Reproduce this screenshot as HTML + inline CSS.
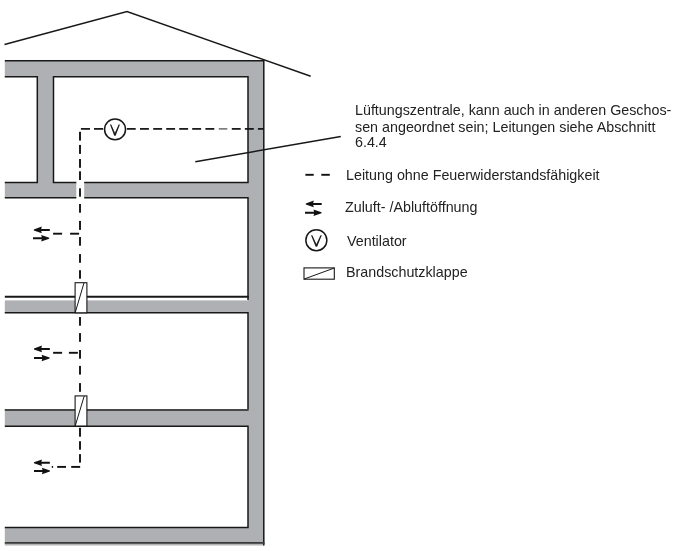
<!DOCTYPE html>
<html><head><meta charset="utf-8">
<style>
html,body{margin:0;padding:0;background:#fff;}
body{width:676px;height:551px;overflow:hidden;position:relative;font-family:"Liberation Sans",sans-serif;color:#222;}
svg{position:absolute;left:0;top:0;}
.t{position:absolute;white-space:nowrap;font-size:14.3px;line-height:16px;will-change:transform;}
.v{position:absolute;white-space:nowrap;font-size:15.3px;line-height:16px;width:20px;text-align:center;}
</style></head><body>
<svg width="676" height="551" viewBox="0 0 676 551">
<g fill="#afb0b3" stroke="none">
<rect x="4.8" y="60.8" width="259" height="16"/>
<rect x="248.0" y="60.8" width="15.8" height="482.9"/>
<rect x="37.3" y="76" width="16.2" height="107"/>
<rect x="4.8" y="182.5" width="244" height="15.3"/>
<rect x="4.8" y="300.4" width="244" height="12.4"/>
<rect x="4.8" y="409.2" width="244" height="17"/>
<rect x="4.8" y="527.5" width="259" height="16.2"/>
<rect x="4.8" y="543.7" width="259" height="1.8" fill="#b4b4b6"/>
</g>
<rect x="76.3" y="181" width="7.9" height="18" fill="#fff"/>
<g fill="none" stroke="#181818" stroke-width="1.5">
<path d="M4.8 60.8H263.8V545.6"/>
<path d="M4.8 76.8H37.3V182.5H4.8"/>
<path d="M76.3 182.5H53.5V76.8H248.0V182.5H84.2"/>
<path d="M4.8 197.8H76.3"/>
<path d="M84.2 197.8H248.0V300"/>
<path d="M4.8 312.8H248.0V409.5"/>
<path d="M4.8 426.2H248.0V527.5H4.8"/>
</g>
<path d="M4.8 296.8H248.8" stroke="#181818" stroke-width="2" fill="none"/>
<path d="M4.8 410H248.6" stroke="#484848" stroke-width="2" fill="none"/>
<path d="M4.8 542.9H264.5" stroke="#3a3a3a" stroke-width="1.7" fill="none"/>
<path d="M4.5 44.5L127 11.5L310.7 76.3" fill="none" stroke="#181818" stroke-width="1.45"/>
<path d="M195.3 161.7L340.8 136.6" fill="none" stroke="#181818" stroke-width="1.5"/>
<rect x="80.90" y="128.05" width="9.10" height="1.70" fill="#111"/>
<rect x="94.00" y="128.05" width="9.20" height="1.70" fill="#111"/>
<rect x="126.80" y="128.05" width="8.90" height="1.70" fill="#111"/>
<rect x="140.00" y="128.05" width="8.90" height="1.70" fill="#111"/>
<rect x="153.20" y="128.05" width="8.90" height="1.70" fill="#111"/>
<rect x="166.20" y="128.05" width="8.90" height="1.70" fill="#111"/>
<rect x="179.20" y="128.05" width="8.90" height="1.70" fill="#111"/>
<rect x="192.20" y="128.05" width="8.90" height="1.70" fill="#111"/>
<rect x="205.40" y="128.05" width="8.90" height="1.70" fill="#111"/>
<rect x="218.80" y="128.25" width="8.50" height="1.30" fill="#555"/>
<rect x="231.80" y="128.05" width="8.90" height="1.70" fill="#111"/>
<rect x="244.90" y="128.05" width="8.90" height="1.70" fill="#111"/>
<rect x="257.90" y="128.05" width="5.90" height="1.70" fill="#111"/>
<rect x="79.05" y="131.80" width="1.90" height="8.80" fill="#111"/>
<rect x="79.05" y="144.90" width="1.90" height="9.00" fill="#111"/>
<rect x="79.05" y="159.00" width="1.90" height="8.80" fill="#111"/>
<rect x="79.05" y="171.30" width="1.90" height="8.70" fill="#111"/>
<rect x="79.05" y="188.30" width="1.90" height="8.40" fill="#111"/>
<rect x="79.05" y="204.00" width="1.90" height="8.70" fill="#111"/>
<rect x="79.05" y="220.90" width="1.90" height="9.00" fill="#111"/>
<rect x="79.05" y="237.00" width="1.90" height="8.70" fill="#111"/>
<rect x="79.05" y="254.10" width="1.90" height="8.70" fill="#111"/>
<rect x="79.05" y="270.20" width="1.90" height="8.50" fill="#111"/>
<rect x="79.05" y="317.00" width="1.90" height="8.70" fill="#111"/>
<rect x="79.05" y="333.10" width="1.90" height="8.70" fill="#111"/>
<rect x="79.05" y="350.00" width="1.90" height="8.70" fill="#111"/>
<rect x="79.05" y="365.90" width="1.90" height="8.70" fill="#111"/>
<rect x="79.05" y="383.10" width="1.90" height="8.70" fill="#111"/>
<rect x="79.05" y="427.80" width="1.90" height="8.90" fill="#111"/>
<rect x="79.05" y="441.20" width="1.90" height="8.50" fill="#111"/>
<rect x="79.05" y="454.10" width="1.90" height="8.50" fill="#111"/>
<rect x="53.10" y="232.75" width="9.00" height="1.90" fill="#111"/>
<rect x="70.10" y="232.75" width="9.00" height="1.90" fill="#111"/>
<rect x="53.10" y="351.85" width="9.00" height="1.90" fill="#111"/>
<rect x="68.90" y="351.85" width="9.00" height="1.90" fill="#111"/>
<rect x="51.80" y="465.95" width="1.30" height="1.90" fill="#111"/>
<rect x="57.20" y="465.95" width="8.80" height="1.90" fill="#111"/>
<rect x="71.20" y="465.95" width="8.95" height="1.90" fill="#111"/>
<rect x="305.40" y="173.85" width="8.30" height="1.90" fill="#111"/>
<rect x="321.30" y="173.85" width="8.50" height="1.90" fill="#111"/>
<g fill="#fff" stroke="#181818" stroke-width="1.1">
<rect x="75.1" y="282.7" width="11.8" height="30.1"/>
<rect x="75.1" y="395.9" width="11.8" height="30.1"/>
<rect x="304" y="267.9" width="30.3" height="11.3"/>
</g>
<g fill="none" stroke="#181818" stroke-width="1">
<path d="M75.3 312.3L84 282.9"/>
<path d="M75.3 425.6L84.2 396.1"/>
<path d="M304.2 279L334.1 268.1"/>
</g>
<circle cx="115.05" cy="129.4" r="10.45" fill="#fff" stroke="#181818" stroke-width="1.5"/>
<circle cx="316.35" cy="240.2" r="10.5" fill="#fff" stroke="#181818" stroke-width="1.5"/>
<path d="M33.80 229.40L41.80 226.60L41.20 228.90H49.80V230.90H41.20L41.80 233.20L33.80 230.40Z" fill="#111"/>
<path d="M49.20 237.70L41.20 234.90L41.80 237.20H33.00V239.20H41.80L41.20 241.50L49.20 238.70Z" fill="#111"/>
<path d="M33.95 348.40L41.95 345.60L41.35 347.90H49.85V349.90H41.35L41.95 352.20L33.95 349.40Z" fill="#111"/>
<path d="M49.60 357.50L41.60 354.70L42.20 357.00H34.00V359.00H42.20L41.60 361.30L49.60 358.50Z" fill="#111"/>
<path d="M33.95 462.20L41.95 459.40L41.35 461.70H49.85V463.70H41.35L41.95 466.00L33.95 463.20Z" fill="#111"/>
<path d="M49.90 470.50L41.90 467.70L42.50 470.00H34.00V472.00H42.50L41.90 474.30L49.90 471.50Z" fill="#111"/>
<path d="M305.80 203.40L313.80 200.60L313.20 202.90H321.70V204.90H313.20L313.80 207.20L305.80 204.40Z" fill="#111"/>
<path d="M321.50 212.30L313.50 209.50L314.10 211.80H305.00V213.80H314.10L313.50 216.10L321.50 213.30Z" fill="#111"/>
<path d="M109.95 124.40L111.25 124.40L114.95 132.81L118.65 124.40L119.95 124.40L115.65 135.70L114.25 135.70Z" fill="#1c1c1c"/><path d="M311.00 235.20L312.30 235.20L316.40 244.04L320.50 235.20L321.80 235.20L317.10 246.80L315.70 246.80Z" fill="#1c1c1c"/>
</svg>
<div class="t" style="left:355px;top:101.6px;">Lüftungszentrale, kann auch in anderen Geschos-</div>
<div class="t" style="left:355px;top:118.5px;">sen angeordnet sein; Leitungen siehe Abschnitt</div>
<div class="t" style="left:355px;top:134.1px;">6.4.4</div>
<div class="t" style="left:346.0px;top:166.9px;">Leitung ohne Feuerwiderstandsfähigkeit</div>
<div class="t" style="left:345.1px;top:198.6px;">Zuluft- /Abluftöffnung</div>
<div class="t" style="left:347px;top:232.8px;">Ventilator</div>
<div class="t" style="left:345.5px;top:263.8px;">Brandschutzklappe</div>
</body></html>
